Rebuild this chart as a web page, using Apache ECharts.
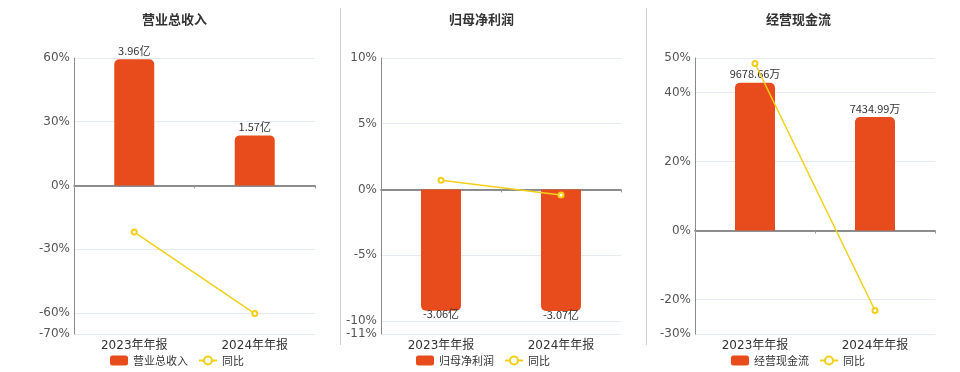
<!DOCTYPE html>
<html><head><meta charset="utf-8">
<script src="https://cdn.jsdelivr.net/npm/echarts@6/dist/echarts.min.js"></script>
<style>html,body{margin:0;padding:0;background:#fff}#c{width:960px;height:372px}</style>
</head><body><div id="c"></div>
<script>
var categories = ['2023年年报', '2024年年报'];
var titles = ['营业总收入', '归母净利润', '经营现金流'];
var revenue = [3.96, 1.57];
var revenueYoy = [-22.0, -60.35];
var profit = [-3.06, -3.07];
var profitYoy = [0.69, -0.43];
var cashflow = [9678.66, 7434.99];
var cashflowYoy = [48.4, -23.18];
var units = ['亿', '亿', '万'];
var pctTicks1 = [-70, -60, -30, 0, 30, 60];
var pctTicks2 = [-11, -10, -5, 0, 5, 10];
var pctTicks3 = [-30, -20, 0, 20, 40, 50];

var FONT = '"Noto Sans CJK SC", "Noto Sans", sans-serif';
var FONT2 = '"DejaVu Sans", "Noto Sans CJK SC", sans-serif';
var BAR = '#E84C1D', LINE = '#F3CF1B';
var panels = [
  {left: 74, width: 241, pmin: -70, pmax: 60, ticks: pctTicks1, bmin: -4 * 70 / 60, bmax: 4, bars: revenue, yoy: revenueYoy, titleLeft: 137, legendLeft: 105},
  {left: 381, width: 240, pmin: -11, pmax: 10, ticks: pctTicks2, bmin: -3.65, bmax: 3.65 * 10 / 11, bars: profit, yoy: profitYoy, titleLeft: 444, legendLeft: 411},
  {left: 695, width: 240, pmin: -30, pmax: 50, ticks: pctTicks3, bmin: -6780, bmax: 11300, bars: cashflow, yoy: cashflowYoy, titleLeft: 761, legendLeft: 726}
];
var option = {
  animation: false,
  textStyle: {fontFamily: FONT},
  title: [], legend: [], grid: [], xAxis: [], yAxis: [], series: [],
  graphic: [
    {type: 'line', shape: {x1: 340.5, y1: 8, x2: 340.5, y2: 345}, style: {stroke: '#d0d0d0', lineWidth: 1}},
    {type: 'line', shape: {x1: 646.5, y1: 8, x2: 646.5, y2: 345}, style: {stroke: '#d0d0d0', lineWidth: 1}}
  ]
};
panels.forEach(function (p, i) {
  option.title.push({text: titles[i], left: p.titleLeft, top: 8, textStyle: {fontSize: 13, fontWeight: 'bold', color: '#333', fontFamily: FONT}});
  option.legend.push({left: p.legendLeft, top: 350, itemWidth: 18, itemHeight: 10, itemGap: 10,
    textStyle: {fontSize: 11, color: '#333', fontFamily: FONT}, data: [titles[i], '同比']});
  option.grid.push({left: p.left, width: p.width, top: 58, bottom: 38});
  option.xAxis.push({type: 'category', gridIndex: i, data: categories, position: 'bottom',
    axisLine: {show: false}, axisTick: {show: false}, splitLine: {show: false},
    axisLabel: {fontSize: 12, color: '#333', margin: 6, fontFamily: FONT2}});
  option.xAxis.push({type: 'category', gridIndex: i, data: categories, position: 'bottom',
    axisLine: {show: true, onZero: true, lineStyle: {color: '#6b6b6b', width: 1.5}},
    axisTick: {show: true, length: 3, lineStyle: {color: '#999'}}, axisLabel: {show: false}, splitLine: {show: false}});
  option.yAxis.push({type: 'value', gridIndex: i, min: p.pmin, max: p.pmax,
    axisLine: {show: true, lineStyle: {color: '#8a8a8a'}}, axisTick: {show: false, customValues: p.ticks},
    axisLabel: {customValues: p.ticks, formatter: '{value}%', fontSize: 12, color: '#555', margin: 4, fontFamily: FONT2, padding: [3, 0, 0, 0]},
    splitLine: {show: true, lineStyle: {color: '#e6ebf3'}}});
  option.yAxis.push({type: 'value', gridIndex: i, min: p.bmin, max: p.bmax, show: false, splitLine: {show: false}});
  var neg = p.bars[0] < 0;
  option.series.push({type: 'bar', name: titles[i], xAxisIndex: 2 * i, yAxisIndex: 2 * i + 1, data: p.bars, barWidth: 40,
    itemStyle: {color: BAR, borderRadius: neg ? [0, 0, 5, 5] : [5, 5, 0, 0]},
    label: {show: true, position: neg ? 'bottom' : 'top', distance: neg ? -2 : 3, fontSize: 11, color: '#333',
      formatter: (function (u) { return function (d) { return d.value + u; }; })(units[i])}});
  option.series.push({type: 'line', name: '同比', xAxisIndex: 2 * i, yAxisIndex: 2 * i, data: p.yoy, z: 5,
    symbol: 'emptyCircle', symbolSize: 5, lineStyle: {color: LINE, width: 1.5}, itemStyle: {color: LINE}});
});
var chart = echarts.init(document.getElementById('c'));
chart.setOption(option);
</script></body></html>
